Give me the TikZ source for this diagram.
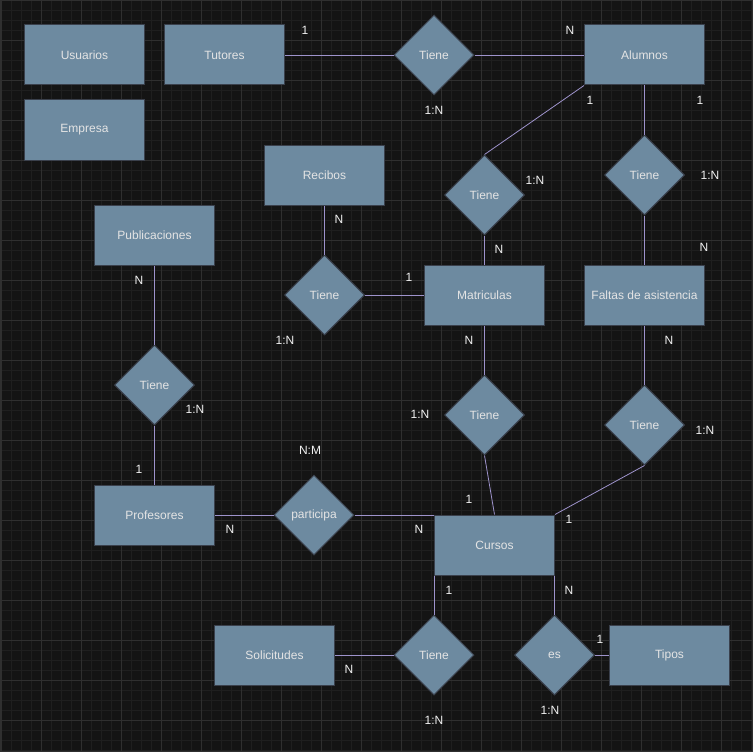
\documentclass[tikz,border=0pt]{standalone}
\usepackage{fontspec}
\setmainfont{Liberation Sans}
\usetikzlibrary{shapes.geometric}
\definecolor{canvas color}{HTML}{141414}
\definecolor{minor grid color}{HTML}{1F1F1F}
\definecolor{major grid color}{HTML}{2F2F2F}
\definecolor{box color}{HTML}{6D8AA0}
\definecolor{box edge color}{HTML}{3A404C}
\definecolor{box text color}{HTML}{E4E4E4}
\definecolor{link color}{HTML}{9E93CC}
\definecolor{label color}{HTML}{F2F2F2}
\tikzset{
    % Background
    canvas/.style={fill=canvas color,draw=major grid color},
    minor grid/.style={color=minor grid color,line width=.6pt},
    major grid/.style={color=major grid color,line width=.8pt},
    %
    % Entities and relations
    entity/.style={rectangle,draw=box edge color,fill=box color,text=box text color,
        line width=1pt,minimum width=120pt,minimum height=60pt,inner sep=0pt},
    relation/.style={diamond,aspect=1,draw=box edge color,fill=box color,text=box text color,
        line width=1pt,minimum width=80pt,minimum height=80pt,inner sep=0pt},
    %
    % Connectors and cardinalities
    link/.style={draw=link color,line width=.8pt},
    card/.style={text=label color,inner sep=0pt}
}
\tikzstyle{every node}=[font=\fontsize{12}{14}\selectfont]

\begin{document}
\begin{tikzpicture}[x=1pt,y=-1pt]
        \useasboundingbox (0,0) rectangle (753,752);
        \draw[canvas] (.5,.5) rectangle (752.5,751.5);
        \foreach \x in {0,10,...,750}{
            \draw[minor grid] (\x+1,1) -- (\x+1,751);
            \draw[minor grid] (1,\x+.5) -- (752,\x+.5);
        }
        \foreach \x in {0,40,...,720}{
            \draw[major grid] (\x+1,1) -- (\x+1,751);
            \draw[major grid] (1,\x+.5) -- (752,\x+.5);
        }
        % entities
        \node[entity] (usuarios) at (84.5,55) {Usuarios};
        \node[entity] (tutores) at (224.5,55) {Tutores};
        \node[entity] (empresa) at (84.5,130) {Empresa};
        \node[entity] (alumnos) at (644.5,55) {Alumnos};
        \node[entity] (recibos) at (324.5,175) {Recibos};
        \node[entity] (publicaciones) at (154.5,235) {Publicaciones};
        \node[entity] (matriculas) at (484.5,295) {Matriculas};
        \node[entity] (faltas) at (644.5,295) {Faltas de asistencia};
        \node[entity] (profesores) at (154.5,515) {Profesores};
        \node[entity] (cursos) at (494.5,545) {Cursos};
        \node[entity] (solicitudes) at (274.5,655) {Solicitudes};
        \node[entity] (tipos) at (669.5,655) {Tipos};
        % relations
        \node[relation] (tieneTA) at (434,55) {Tiene};
        \node[relation] (tieneAM) at (484.5,195) {Tiene};
        \node[relation] (tieneAF) at (644.5,175) {Tiene};
        \node[relation] (tieneRM) at (324.5,295) {Tiene};
        \node[relation] (tienePP) at (154.5,385) {Tiene};
        \node[relation] (tieneMC) at (484.5,415) {Tiene};
        \node[relation] (tieneFC) at (644.5,425) {Tiene};
        \node[relation] (participa) at (314,515) {participa};
        \node[relation] (tieneCS) at (434,655) {Tiene};
        \node[relation] (es) at (554.5,655) {es};
        % connectors
        \draw[link] (tutores.east) -- (tieneTA.west);
        \draw[link] (tieneTA.east) -- (alumnos.west);
        \draw[link] (alumnos.south west) -- (tieneAM.north);
        \draw[link] (alumnos.south) -- (tieneAF.north);
        \draw[link] (tieneAM.south) -- (matriculas.north);
        \draw[link] (tieneAF.south) -- (faltas.north);
        \draw[link] (recibos.south) -- (tieneRM.north);
        \draw[link] (tieneRM.east) -- (matriculas.west);
        \draw[link] (publicaciones.south) -- (tienePP.north);
        \draw[link] (tienePP.south) -- (profesores.north);
        \draw[link] (matriculas.south) -- (tieneMC.north);
        \draw[link] (tieneMC.south) -- (cursos.north);
        \draw[link] (faltas.south) -- (tieneFC.north);
        \draw[link] (tieneFC.south) -- (cursos.north east);
        \draw[link] (profesores.east) -- (participa.west);
        \draw[link] (participa.east) -- (participa.east -| cursos.west);
        \draw[link] (tieneCS.north |- cursos.south) -- (tieneCS.north);
        \draw[link] (tieneCS.west) -- (solicitudes.east);
        \draw[link] (es.north |- cursos.south) -- (es.north);
        \draw[link] (es.east) -- (tipos.west);
        % cardinalities
        \node[card] (c1) at (305,30) {1};
        \node[card] (c2) at (570,30) {N};
        \node[card] (c3) at (434,110) {1:N};
        \node[card] (c4) at (590,100) {1};
        \node[card] (c5) at (700,100) {1};
        \node[card] (c6) at (535,180) {1:N};
        \node[card] (c7) at (710,175) {1:N};
        \node[card] (c8) at (339,219) {N};
        \node[card] (c9) at (499,249) {N};
        \node[card] (c10) at (704,247) {N};
        \node[card] (c11) at (139,280) {N};
        \node[card] (c12) at (409,277) {1};
        \node[card] (c13) at (285,340) {1:N};
        \node[card] (c14) at (469,340) {N};
        \node[card] (c15) at (669,340) {N};
        \node[card] (c16) at (195,409) {1:N};
        \node[card] (c17) at (420,414) {1:N};
        \node[card] (c18) at (705,430) {1:N};
        \node[card] (c19) at (310,450) {N:M};
        \node[card] (c20) at (139,469) {1};
        \node[card] (c21) at (469,499) {1};
        \node[card] (c22) at (569,519) {1};
        \node[card] (c23) at (230,529) {N};
        \node[card] (c24) at (419,529) {N};
        \node[card] (c25) at (449,590) {1};
        \node[card] (c26) at (569,590) {N};
        \node[card] (c27) at (600,639) {1};
        \node[card] (c28) at (349,669) {N};
        \node[card] (c29) at (434,720) {1:N};
        \node[card] (c30) at (550,710) {1:N};
    \end{tikzpicture}
\end{document}
